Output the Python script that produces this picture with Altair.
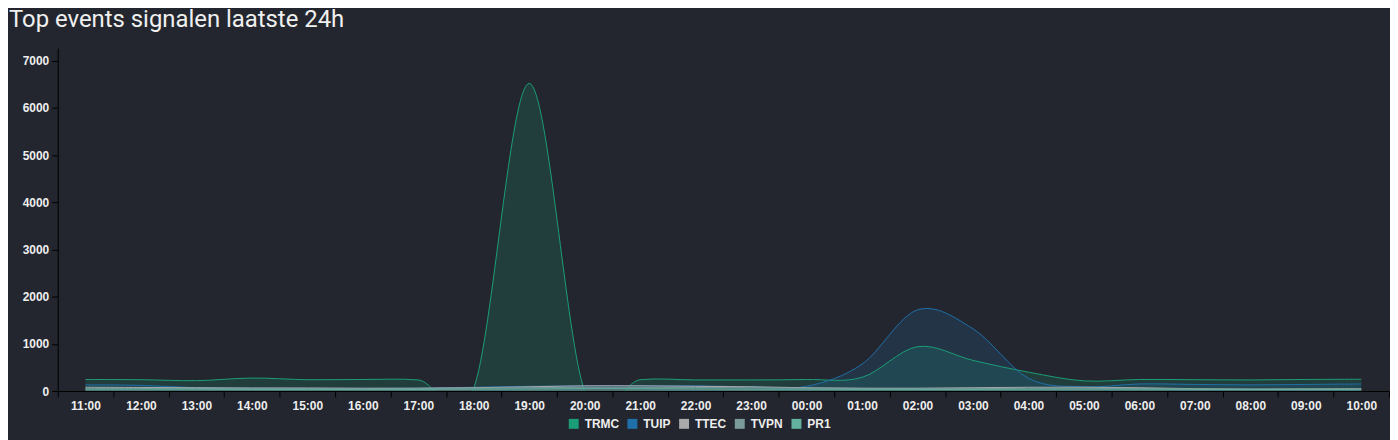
import altair as alt
import pandas as pd

hours = ["11:00", "12:00", "13:00", "14:00", "15:00", "16:00", "17:00", "18:00",
         "19:00", "20:00", "21:00", "22:00", "23:00", "00:00", "01:00", "02:00",
         "03:00", "04:00", "05:00", "06:00", "07:00", "08:00", "09:00", "10:00"]

series_names = ["TRMC", "TUIP", "TTEC", "TVPN", "PR1"]
series_colors = ["#1b9e77", "#1f70a8", "#aaaaaa", "#7b9b9a", "#63b3a0"]

trmc = [245, 240, 220, 275, 240, 245, 235, 60, 6520, 0, 240, 235, 235, 245,
        290, 940, 650, 400, 215, 245, 240, 235, 245, 250]
tuip = [130, 120, 70, 60, 55, 55, 60, 80, 100, 110, 110, 110, 90, 100,
        570, 1720, 1320, 270, 90, 150, 140, 130, 140, 150]
ttec = [80, 75, 70, 65, 65, 60, 60, 70, 90, 110, 110, 100, 90, 70,
        60, 60, 70, 80, 80, 70, 50, 40, 45, 50]
tvpn = [60, 55, 55, 50, 50, 50, 55, 60, 70, 80, 80, 75, 70, 60,
        55, 50, 50, 60, 60, 55, 45, 40, 40, 45]
pr1 = [40, 40, 40, 35, 35, 35, 35, 40, 45, 50, 50, 45, 40, 40,
       35, 35, 35, 40, 40, 40, 35, 35, 35, 35]

y_ticks = [0, 1000, 2000, 3000, 4000, 5000, 6000, 7000]

rows = []
for name, vals in zip(series_names, [trmc, tuip, ttec, tvpn, pr1]):
    for h, v in zip(hours, vals):
        rows.append({"uur": h, "serie": name, "waarde": v})
df = pd.DataFrame(rows)

BG = "#23262e"

chart = alt.Chart(df).mark_area(
    interpolate="cardinal",
    tension=0,
    fillOpacity=0.2,
    clip=True,
    line=alt.OverlayMarkDef(strokeWidth=1),
).encode(
    x=alt.X("uur:O", sort=hours, bandPosition=0.5,
            scale=alt.Scale(type="band", paddingInner=0, paddingOuter=0),
            axis=alt.Axis(title=None, labelAngle=0, tickBand="extent",
                          labelFont="Liberation Sans", labelFontSize=12,
                          labelFontWeight="bold", labelColor="#eeeeee",
                          labelPadding=4, tickSize=6, tickColor="#000000",
                          domainColor="#000000", grid=False)),
    y=alt.Y("waarde:Q", stack=None,
            scale=alt.Scale(domain=[0, 7270], nice=False),
            axis=alt.Axis(title=None, values=y_ticks, grid=False, format="d",
                          labelFont="Liberation Sans", labelFontSize=12,
                          labelFontWeight="bold", labelColor="#eeeeee",
                          labelPadding=3, tickSize=6, tickColor="#000000",
                          domainColor="#000000")),
    color=alt.Color("serie:N", sort=series_names,
                    scale=alt.Scale(domain=series_names, range=series_colors),
                    legend=alt.Legend(title=None, orient="none", direction="horizontal",
                                      legendX=513, legendY=372,
                                      symbolType="square", symbolSize=100,
                                      symbolStrokeWidth=0, symbolOpacity=1,
                                      labelFont="Liberation Sans", labelFontSize=12,
                                      labelFontWeight="bold", labelColor="#eeeeee",
                                      columnPadding=7, labelOffset=5)),
    order=alt.Order("serie:N"),
).properties(
    width=1339,
    height=345,
    background=BG,
    padding={"left": 50, "top": 39, "right": 1, "bottom": 48},
    autosize=alt.AutoSizeParams(type="none"),
    title=alt.TitleParams("Top events signalen laatste 24h", anchor="start", frame="group",
                          font="Roboto", fontSize=24, fontWeight="normal",
                          color="#f0f0f0", dx=-49, offset=14, dy=17,
                          baseline="alphabetic"),
).configure_view(stroke=None)

chart.save("out.html", embed_options={"renderer": "svg", "actions": False})
